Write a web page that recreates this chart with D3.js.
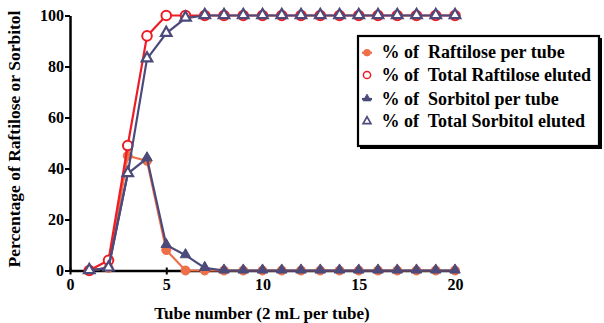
<!DOCTYPE html>
<html>
<head>
<meta charset="utf-8">
<script src="https://cdn.jsdelivr.net/npm/d3@7"></script>
<style>
  body { margin: 0; background: #fff; }
</style>
</head>
<body>
<div id="chart"></div>
<script>
// tube numbers 1..20
const tubes = [1,2,3,4,5,6,7,8,9,10,11,12,13,14,15,16,17,18,19,20];
const raftPerTube   = [0,1,45,43,8,0,0,0,0,0,0,0,0,0,0,0,0,0,0,0];
const raftTotal     = [0,4,49,92,100,100,100,100,100,100,100,100,100,100,100,100,100,100,100,100];
const sorbPerTube   = [0,1,38,44,10,6,1,0,0,0,0,0,0,0,0,0,0,0,0,0];
const sorbTotal     = [0,1,38,83,93,99,100,100,100,100,100,100,100,100,100,100,100,100,100,100];
const xTicks = [0,5,10,15,20];
const yTicks = [0,20,40,60,80,100];
const seriesNames = ["% of  Raftilose per tube", "% of  Total Raftilose eluted",
                     "% of  Sorbitol per tube", "% of  Total Sorbitol eluted"];

const FONT = "'Liberation Serif', 'Times New Roman', serif";
const width = 604, height = 323;
const margin = {top: 15.5, right: 149, bottom: 52.5, left: 70};
const orange = "#EE6F48", red = "#EE1C25", slate = "#4B4A7B";

const svg = d3.select("#chart").append("svg")
  .attr("width", width).attr("height", height)
  .attr("font-family", FONT).attr("font-weight", "bold");

const x = d3.scaleLinear().domain([0, 20]).range([margin.left, width - margin.right]);
const y = d3.scaleLinear().domain([0, 100]).range([height - margin.bottom, margin.top]);

// axes
const axX = svg.append("g")
  .attr("transform", "translate(0," + y(0) + ")")
  .call(d3.axisBottom(x).tickValues(xTicks).tickSize(4).tickSizeOuter(0))
  .attr("font-family", FONT).attr("font-size", 16);
axX.select("path").attr("stroke", "#000").attr("stroke-width", 2.5);
axX.selectAll(".tick line").attr("stroke-width", 2).attr("y1", -3);
axX.selectAll(".tick text").attr("dy", "0.78em").attr("fill", "#000");

const axY = svg.append("g")
  .attr("transform", "translate(" + x(0) + ",0)")
  .call(d3.axisLeft(y).tickValues(yTicks).tickSize(5).tickSizeOuter(0))
  .attr("font-family", FONT).attr("font-size", 16);
axY.select("path").attr("stroke", "#000").attr("stroke-width", 2.5);
axY.selectAll(".tick line").attr("stroke-width", 2);
axY.selectAll(".tick text").attr("x", -6).attr("fill", "#000");

svg.append("text")
  .attr("transform", "translate(20,139) rotate(-90)")
  .attr("text-anchor", "middle")
  .attr("font-size", 17.5)
  .text("Percentage of Raftilose or Sorbitol");

svg.append("text")
  .attr("x", 262).attr("y", 318.5)
  .attr("text-anchor", "middle")
  .attr("font-size", 17)
  .text("Tube number (2 mL per tube)");

const line = d3.line().x((d, i) => x(tubes[i])).y(d => y(d));
const tri = d3.symbol().type(d3.symbolTriangle).size(48);

const series = [
  {vals: raftPerTube, color: orange, shape: "circle", filled: true},
  {vals: raftTotal,   color: red,    shape: "circle", filled: false},
  {vals: sorbPerTube, color: slate,  shape: "triangle", filled: true},
  {vals: sorbTotal,   color: slate,  shape: "triangle", filled: false}
];

function marker(sel, s) {
  if (s.shape === "circle") {
    sel.append("circle").attr("r", s.filled ? 4.5 : 4.8)
      .attr("fill", s.filled ? s.color : "#fff")
      .attr("stroke", s.color).attr("stroke-width", s.filled ? 1 : 2);
  } else {
    sel.append("path").attr("d", tri)
      .attr("fill", s.filled ? s.color : "#fff")
      .attr("stroke", s.color).attr("stroke-width", s.filled ? 1 : 2.2)
      .attr("transform", "translate(0,-0.5)");
  }
}

series.forEach(s => {
  svg.append("path").datum(s.vals)
    .attr("d", line)
    .attr("fill", "none")
    .attr("stroke", s.color)
    .attr("stroke-width", 2.2);
  const pts = svg.append("g").selectAll("g").data(s.vals).join("g")
    .attr("transform", (d, i) => "translate(" + x(tubes[i]) + "," + y(d) + ")");
  pts.each(function() { marker(d3.select(this), s); });
});

// legend
const lg = svg.append("g");
lg.append("rect").attr("x", 360).attr("y", 38).attr("width", 242).attr("height", 111)
  .attr("fill", "#000");
lg.append("rect").attr("x", 358).attr("y", 36).attr("width", 241).attr("height", 110)
  .attr("fill", "#fff").attr("stroke", "#000").attr("stroke-width", 2.2);
const rowsY = [52.7, 75, 99, 121.7];
series.forEach((s, i) => {
  const g = lg.append("g").attr("transform", "translate(367," + rowsY[i] + ")");
  if (s.filled) {
    g.append("line").attr("x1", -5).attr("x2", 5).attr("stroke", s.color).attr("stroke-width", 2.2);
  }
  const m = g.append("g").attr("transform", "scale(0.75)");
  marker(m, s);
  g.append("text").attr("x", 14.5).attr("y", 5.5).attr("font-size", 18)
    .attr("fill", "#000").style("white-space", "pre").text(seriesNames[i]);
});
</script>
</body>
</html>
